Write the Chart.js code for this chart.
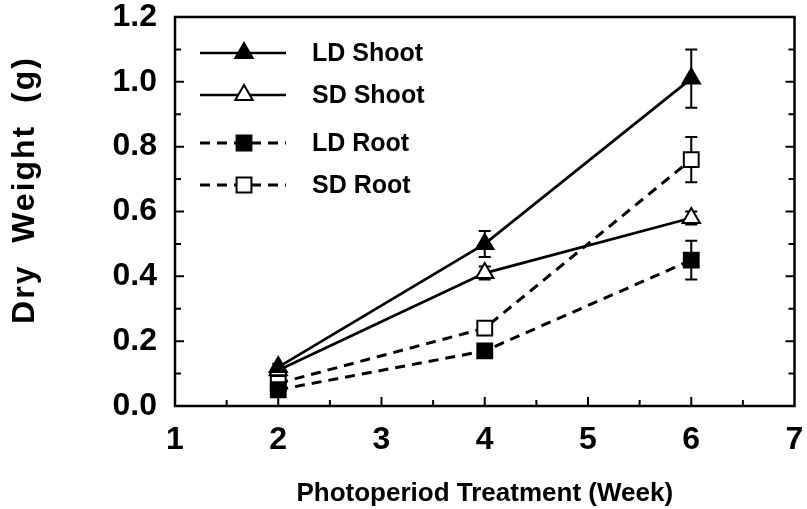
<!DOCTYPE html>
<html>
<head>
<meta charset="utf-8">
<script src="https://cdn.jsdelivr.net/npm/chart.js@4/dist/chart.umd.min.js"></script>
<style>
  body { margin: 0; background: #fff; }
  #wrap { width: 807px; height: 509px; }
</style>
</head>
<body>
<div id="wrap"><canvas id="chart" width="807" height="509"></canvas></div>
<script>
const weeks = [2, 4, 6];
const ldShoot = [0.12, 0.50, 1.01];
const ldShootErr = [0.01, 0.04, 0.09];
const sdShoot = [0.11, 0.41, 0.58];
const sdShootErr = [0.01, 0.02, 0.02];
const ldRoot = [0.05, 0.17, 0.45];
const ldRootErr = [0.01, 0.01, 0.06];
const sdRoot = [0.07, 0.24, 0.76];
const sdRootErr = [0.01, 0.02, 0.07];
const seriesNames = ["LD Shoot", "SD Shoot", "LD Root", "SD Root"];
const xTicks = [1, 2, 3, 4, 5, 6, 7];
const yTicks = [0, 0.2, 0.4, 0.6, 0.8, 1.0, 1.2];

const FONT = "'Liberation Sans', Arial, sans-serif";
const dash = [10, 7];

function pts(ys) {
  return weeks.map((w, i) => ({ x: w, y: ys[i] }));
}

function makeSet(label, ys, errs, style, filled, dashed) {
  return {
    label: label,
    data: pts(ys),
    errors: errs,
    borderColor: "#000",
    borderWidth: dashed ? 3 : 2.7,
    borderDash: dashed ? dash : [],
    pointStyle: style,
    pointRadius: style === "triangle" ? 10 : 10.5,
    pointBorderWidth: 2,
    pointBorderColor: "#000",
    pointBackgroundColor: filled ? "#000" : "#fff",
    tension: 0,
    fill: false
  };
}

const datasets = [
  makeSet(seriesNames[0], ldShoot, ldShootErr, "triangle", true, false),
  makeSet(seriesNames[1], sdShoot, sdShootErr, "triangle", false, false),
  makeSet(seriesNames[2], ldRoot, ldRootErr, "rect", true, true),
  makeSet(seriesNames[3], sdRoot, sdRootErr, "rect", false, true)
];

// error bars under the markers
const errorBars = {
  id: "errorBars",
  beforeDatasetsDraw(chart) {
    const ctx = chart.ctx;
    const xs = chart.scales.x, ys = chart.scales.y;
    ctx.save();
    ctx.strokeStyle = "#000";
    ctx.lineWidth = 2;
    chart.data.datasets.forEach(ds => {
      ds.data.forEach((p, i) => {
        const e = ds.errors[i];
        const px = xs.getPixelForValue(p.x);
        const top = ys.getPixelForValue(p.y + e);
        const bot = ys.getPixelForValue(p.y - e);
        ctx.beginPath();
        ctx.moveTo(px, top); ctx.lineTo(px, bot);
        ctx.moveTo(px - 6, top); ctx.lineTo(px + 6, top);
        ctx.moveTo(px - 6, bot); ctx.lineTo(px + 6, bot);
        ctx.stroke();
      });
    });
    ctx.restore();
  }
};

// frame, inward ticks, legend, y title
const decorations = {
  id: "decorations",
  afterDraw(chart) {
    const ctx = chart.ctx;
    const a = chart.chartArea;
    const xs = chart.scales.x, ys = chart.scales.y;
    ctx.save();
    ctx.strokeStyle = "#000";
    ctx.lineWidth = 2.5;
    ctx.strokeRect(a.left, a.top, a.right - a.left, a.bottom - a.top);

    ctx.lineWidth = 2;
    ctx.beginPath();
    for (let v = 1.5; v <= 6.5; v += 0.5) {
      const px = xs.getPixelForValue(v);
      const len = Number.isInteger(v) ? 9 : 6;
      ctx.moveTo(px, a.bottom); ctx.lineTo(px, a.bottom - len);
    }
    for (let k = 1; k < 12; k++) {
      const py = ys.getPixelForValue(k / 10);
      const len = k % 2 === 0 ? 9 : 6;
      ctx.moveTo(a.left, py); ctx.lineTo(a.left + len, py);
      ctx.moveTo(a.right, py); ctx.lineTo(a.right - len, py);
    }
    ctx.stroke();

    // legend
    const rowsY = [53, 95, 143, 185];
    chart.data.datasets.forEach((ds, i) => {
      const y = rowsY[i];
      ctx.save();
      ctx.lineWidth = ds.borderWidth;
      ctx.setLineDash(ds.borderDash);
      ctx.beginPath();
      ctx.moveTo(200, y); ctx.lineTo(286, y);
      ctx.stroke();
      ctx.restore();
      ctx.fillStyle = ds.pointBackgroundColor;
      ctx.strokeStyle = "#000";
      ctx.lineWidth = 2;
      Chart.helpers.drawPoint(ctx, { pointStyle: ds.pointStyle, radius: ds.pointRadius, borderWidth: 2, rotation: 0 }, 244, y);
      ctx.fillStyle = "#000";
      ctx.font = "bold 25px " + FONT;
      ctx.textAlign = "left";
      ctx.textBaseline = "middle";
      ctx.fillText(ds.label, 312, y + 1);
    });

    // y axis title
    ctx.translate(25, 190);
    ctx.rotate(-Math.PI / 2);
    ctx.font = "bold 32px " + FONT;
    ctx.letterSpacing = "2px";
    ctx.textAlign = "center";
    ctx.textBaseline = "middle";
    ctx.fillStyle = "#000";
    ctx.fillText("Dry  Weight  (g)", 0, 0);
    ctx.restore();
  }
};

new Chart(document.getElementById("chart"), {
  type: "line",
  data: { datasets: datasets },
  options: {
    responsive: false,
    animation: false,
    layout: { padding: { top: 17, right: 10, left: 0, bottom: 0 } },
    plugins: { legend: { display: false }, tooltip: { enabled: false } },
    scales: {
      x: {
        type: "linear",
        min: xTicks[0],
        max: xTicks[xTicks.length - 1],
        afterBuildTicks: s => { s.ticks = xTicks.map(v => ({ value: v })); },
        afterFit: s => { s.height = 103; s.paddingLeft = 0; s.paddingRight = 0; },
        grid: { display: false, drawTicks: false },
        border: { display: false },
        ticks: {
          color: "#000",
          padding: 15,
          font: { family: FONT, size: 32, weight: "bold" },
          callback: v => String(v)
        },
        title: {
          display: true,
          text: "Photoperiod Treatment (Week)",
          color: "#000",
          font: { family: FONT, size: 26, weight: "bold" },
          padding: { top: 0, bottom: 0 }
        }
      },
      y: {
        min: yTicks[0],
        max: yTicks[yTicks.length - 1],
        afterBuildTicks: s => { s.ticks = yTicks.map(v => ({ value: v })); },
        afterFit: s => { s.width = 175; s.paddingTop = 0; s.paddingBottom = 0; },
        grid: { display: false, drawTicks: false },
        border: { display: false },
        ticks: {
          color: "#000",
          padding: 18,
          font: { family: FONT, size: 32, weight: "bold" },
          callback: v => Number(v).toFixed(1)
        }
      }
    }
  },
  plugins: [errorBars, decorations]
});
</script>
</body>
</html>
